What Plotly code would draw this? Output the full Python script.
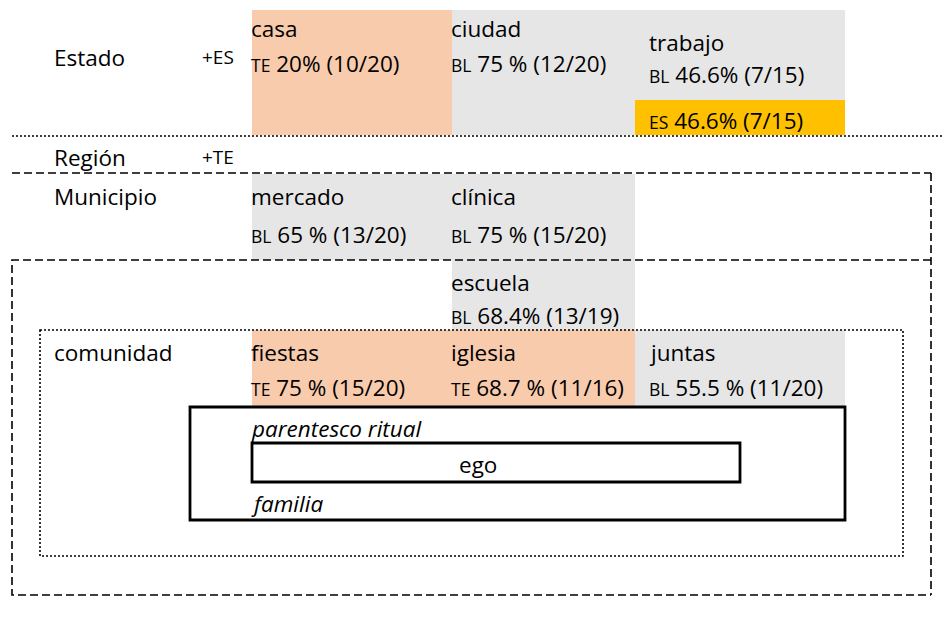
import plotly.graph_objects as go

# ---- data (text content) ----
levels = ["Estado", "Región", "Municipio", "comunidad"]
level_codes = ["+ES", "+TE", "", ""]
places = ["casa", "ciudad", "trabajo", "", "mercado", "clínica", "escuela", "fiestas", "iglesia", "juntas"]
codes = ["TE", "BL", "BL", "ES", "BL", "BL", "BL", "TE", "TE", "BL"]
percents = ["20%", "75 %", "46.6%", "46.6%", "65 %", "75 %", "68.4%", "75 %", "68.7 %", "55.5 %"]
counts = ["(10/20)", "(12/20)", "(7/15)", "(7/15)", "(13/20)", "(15/20)", "(13/19)", "(15/20)", "(11/16)", "(11/20)"]
kin_labels = ["parentesco ritual", "ego", "familia"]

# ---- layout / styling ----
ORANGE = "#F8CBAD"
GRAY = "#E6E6E6"
GOLD = "#FFC000"
FONT = "Open Sans"
FS = 22.5
FS_SMALL = 17.5
FS_LEVEL_CODE = 19
OFF = 8  # page body margin compensation

cell_boxes = [  # x0, x1, y0, y1, colour
    (252, 452, 10, 135, ORANGE),
    (452, 635, 10, 135, GRAY),
    (635, 845, 10, 100, GRAY),
    (635, 845, 100, 135, GOLD),
    (252, 452, 174, 260, GRAY),
    (452, 635, 174, 260, GRAY),
    (452, 635, 260, 330, GRAY),
    (252, 452, 330, 406, ORANGE),
    (452, 635, 330, 406, ORANGE),
    (635, 845, 330, 406, GRAY),
]
cell_text_pos = [  # x, y of name, y of stat line
    (252, 28, 63), (452, 28, 63), (650, 42, 74), (650, None, 120),
    (252, 196, 234), (452, 196, 234), (452, 282, 315),
    (252, 352, 387), (452, 352, 387), (650, 352, 387),
]
level_pos = [57, 157, 196, 352]

fig = go.Figure()
shapes = []
for (x0, x1, y0, y1, c) in cell_boxes:
    shapes.append(dict(type="rect", x0=x0, x1=x1, y0=y0, y1=y1, fillcolor=c,
                       line=dict(width=0), layer="below"))

DOT = dict(color="black", width=1.6, dash="2px,2px")
DASH = dict(color="black", width=1.6, dash="8px,4px")
SOLID = dict(color="black", width=2.8)
shapes.append(dict(type="line", x0=12, x1=950, y0=136, y1=136, line=DOT))
shapes.append(dict(type="line", x0=12, x1=931, y0=173, y1=173, line=DASH))
shapes.append(dict(type="line", x0=931, x1=931, y0=173, y1=595, line=DASH))
shapes.append(dict(type="path", path="M 931 260 L 12 260 L 12 595 L 931 595", line=DASH))
shapes.append(dict(type="rect", x0=40, x1=903, y0=330, y1=556, line=DOT))
shapes.append(dict(type="rect", x0=190, x1=845, y0=407, y1=520, line=SOLID))
shapes.append(dict(type="rect", x0=252, x1=740, y0=443, y1=482, line=SOLID))

ann = []
def add(x, y, text, anchor="left", italic=False):
    ann.append(dict(x=x - (1 if anchor == "left" else 0), y=y, text=text, showarrow=False,
                    xanchor=anchor, yanchor="middle", xref="x", yref="y",
                    borderpad=0, borderwidth=0,
                    font=dict(family=FONT, size=FS, color="black",
                              style="italic" if italic else "normal")))

for lvl, lc, y in zip(levels, level_codes, level_pos):
    add(55, y, lvl)
    if lc:
        add(203, y, f"<span style='font-size:{FS_LEVEL_CODE}px'>{lc}</span>")

for name, code, pct, cnt, (x, yn, ys) in zip(places, codes, percents, counts, cell_text_pos):
    if name and yn is not None:
        add(x, yn, name)
    add(x, ys, f"<span style='font-size:{FS_SMALL}px'>{code}</span> {pct} {cnt}")

add(252, 428, kin_labels[0], italic=True)
add(478, 464, kin_labels[1], anchor="center")
add(252, 503, kin_labels[2], italic=True)

fig.update_layout(
    width=950, height=628, margin=dict(l=0, r=0, t=0, b=0),
    paper_bgcolor="white", plot_bgcolor="white",
    xaxis=dict(range=[OFF, 950 + OFF], visible=False, fixedrange=True),
    yaxis=dict(range=[628 + OFF, OFF], visible=False, fixedrange=True),
    shapes=shapes, annotations=ann, showlegend=False,
)
fig.write_html("out.html")
